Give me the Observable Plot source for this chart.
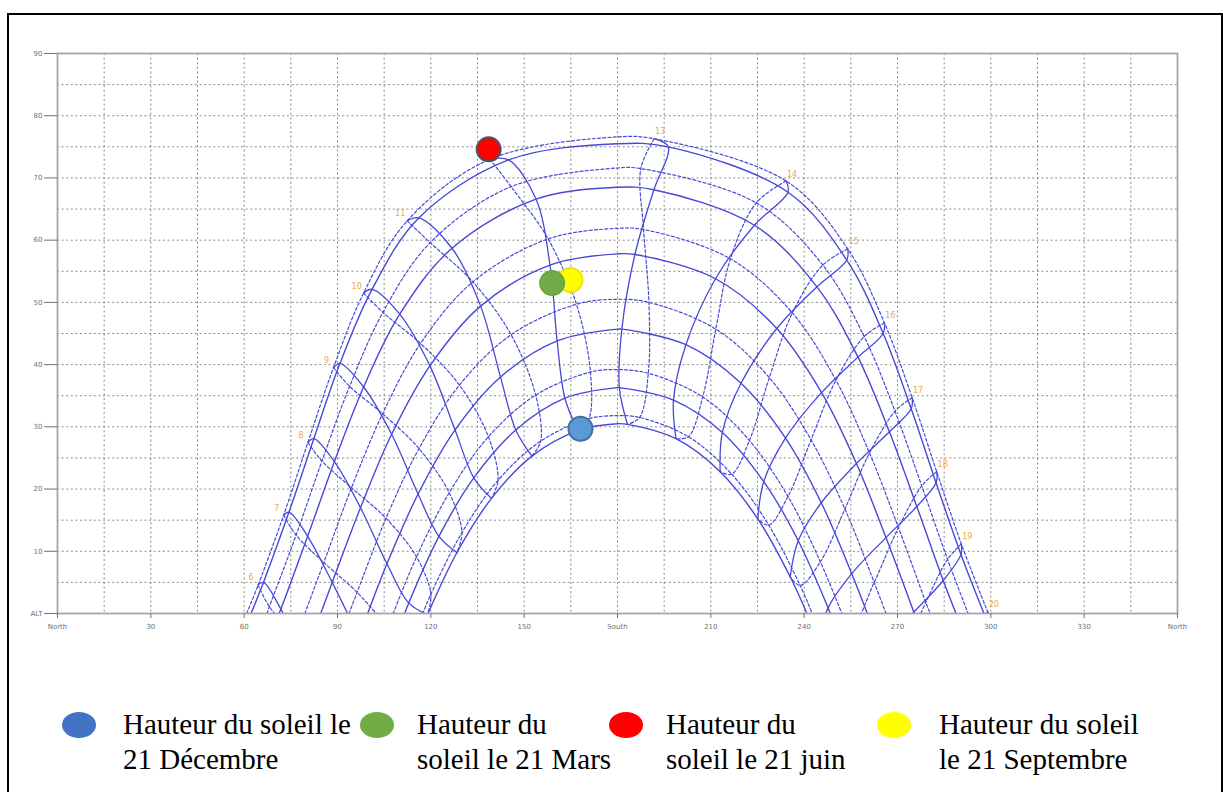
<!DOCTYPE html>
<html><head><meta charset="utf-8">
<script src="https://cdn.jsdelivr.net/npm/d3@7"></script>
<script src="https://cdn.jsdelivr.net/npm/@observablehq/plot@0.6"></script>
<style>
html,body{margin:0;padding:0;background:#fff;overflow:hidden;}
#wrap{position:relative;width:1223px;height:792px;overflow:hidden;}
#chart{position:absolute;left:0;top:0;}
#border{position:absolute;left:7px;top:13px;width:1212px;height:820px;border:2px solid #000;}
.leg{position:absolute;font-family:"Liberation Serif","Times New Roman",serif;font-size:29px;line-height:35px;color:#000;white-space:nowrap;}
.ell{position:absolute;width:34px;height:26px;border-radius:50%;}
</style></head><body>
<div id="wrap"><div id="chart"></div><div id="legend"></div><div id="border"></div></div>
<script>
// ---- axis ticks ----
const xTicks = [0,30,60,90,120,150,180,210,240,270,300,330,360];
const xTickLabels = ["North","30","60","90","120","150","South","210","240","270","300","330","North"];
const yTicks = [0,10,20,30,40,50,60,70,80,90];
const yTickLabels = ["ALT","10","20","30","40","50","60","70","80","90"];
const gridXTicks = [15,30,45,60,75,90,105,120,135,150,165,180,195,210,225,240,255,270,285,300,315,330,345];
const gridYTicks = [5,10,15,20,25,30,35,40,45,50,55,60,65,70,75,80,85];

// ---- sun path data (azimuth °, altitude °) ----
const hours = [6,7,8,9,10,11,12,13,14,15,16,17,18,19,20];
const monthNames = ["Jan","Feb","Mar","Apr","May","Jun","Jul","Aug","Sep","Oct","Nov","Dec"];
const sunriseAz = [119.1,111.6,99.7,84.6,71.2,62.2,60.8,67.3,79.5,93.7,107.9,117.4];
const sunsetAz  = [240.9,248.4,260.3,275.4,288.8,297.8,299.2,292.7,280.5,266.3,252.1,242.6];
const noonAlt   = [30.5,36.3,45.7,57.8,68.5,75.5,76.6,71.6,61.9,50.5,39.2,31.8];

// sun position at each clock hour (6h .. 20h), null = sun far below horizon
const jan = [null,null,[118.9,-0.2],[128.4,9.8],[139.5,18.5],[152.5,25.3],[167.3,29.4],[183.2,30.4],[198.8,28.1],[213.0,22.8],[225.1,15.2],[235.5,5.9],[244.6,-4.5],null,null];
const feb = [null,null,[112.9,1.7],[122.6,12.4],[133.8,21.8],[147.3,29.5],[163.1,34.6],[180.6,36.3],[198.0,34.3],[213.7,29.1],[227.0,21.2],[238.1,11.7],[247.7,0.9],null,null];
const mar = [null,[96.9,-3.8],[105.9,8.0],[115.9,19.2],[127.8,29.5],[142.4,38.0],[160.6,43.8],[181.4,45.7],[202.0,43.2],[219.7,37.0],[234.0,28.2],[245.5,17.8],[255.3,6.4],[264.3,-5.4],null];
const apr = [[79.3,-7.0],[88.3,5.0],[97.4,17.0],[107.4,28.8],[119.7,39.8],[136.0,49.4],[158.3,56.0],[185.6,57.7],[211.5,53.8],[231.2,45.8],[245.6,35.5],[256.8,24.1],[266.3,12.2],[275.2,0.2],null];
const may = [[71.8,0.7],[80.4,12.4],[89.0,24.4],[98.4,36.4],[110.0,48.1],[126.8,58.7],[153.8,66.6],[191.7,68.1],[224.0,62.4],[244.1,52.5],[257.3,41.2],[267.4,29.2],[276.2,17.2],[284.7,5.3],[293.7,-6.0]];
const jun = [[66.2,5.0],[74.4,16.3],[82.4,28.1],[90.8,40.2],[101.1,52.1],[116.2,63.6],[145.0,72.9],[196.3,75.0],[234.8,67.7],[253.7,56.8],[265.4,45.0],[274.4,32.9],[282.4,21.0],[290.4,9.5],[299.0,-1.5]];
const jul = [[64.5,4.6],[72.7,15.8],[80.5,27.5],[88.7,39.5],[98.4,51.5],[112.4,63.1],[139.0,73.0],[191.8,76.3],[234.2,69.5],[254.0,58.6],[265.8,46.7],[274.7,34.7],[282.6,22.8],[290.5,11.2],[299.0,0.3]];
const aug = [[68.1,1.1],[76.7,12.6],[85.0,24.5],[93.9,36.5],[104.6,48.4],[119.8,59.6],[145.8,68.6],[187.5,71.5],[224.6,66.0],[246.0,56.0],[259.3,44.5],[269.2,32.5],[277.8,20.5],[286.1,8.7],[294.8,-2.6]];
const sep = [[76.7,-3.7],[85.6,8.2],[94.5,20.2],[104.5,32.1],[116.7,43.4],[133.5,53.3],[157.7,60.2],[188.4,61.7],[216.3,57.0],[236.2,48.3],[250.2,37.5],[261.0,25.8],[270.3,13.8],[279.1,1.8],null];
const oct = [null,[96.3,3.4],[105.6,15.3],[116.2,26.5],[129.2,36.7],[145.8,44.8],[166.8,49.7],[190.1,50.0],[211.6,45.7],[228.8,37.9],[242.2,27.9],[253.1,16.8],[262.5,5.0],[271.5,-7.0],null];
const nov = [null,[106.2,-2.2],[115.4,9.1],[125.9,19.4],[138.5,28.4],[153.7,35.1],[171.3,38.8],[189.9,38.6],[207.4,34.8],[222.4,27.8],[234.8,18.8],[245.2,8.3],[254.4,-3.0],null,null];
const dec = [null,null,[120.0,3.1],[130.0,13.0],[141.6,21.4],[155.3,27.7],[170.8,31.3],[187.1,31.5],[202.8,28.4],[216.7,22.4],[228.6,14.2],[238.7,4.5],null,null,null];

// ---- highlighted sun positions ----
const dotNames = ["21 Décembre","21 Septembre","21 Mars","21 juin"];
const dotAz    = [168.1,164.9,159.0,138.6];
const dotAlt   = [29.7,53.6,53.1,74.6];
const dotFill  = ["#5b9bd5","#ffff00","#70ad47","#ff0000"];
const dotStroke= ["#41719c","#f2e400","#6aa544","#3f5a66"];

// ---- legend ----
const legendLine1 = ["Hauteur du soleil le","Hauteur du","Hauteur du","Hauteur du soleil"];
const legendLine2 = ["21 Décembre","soleil le 21 Mars","soleil le 21 juin","le 21 Septembre"];
const legendColors = ["#4472c4","#70ad47","#ff0000","#ffff00"];

// ---- build tables ----
const monthPts = [jan,feb,mar,apr,may,jun,jul,aug,sep,oct,nov,dec];
const dayRows = [];
monthPts.forEach((pts, m) => {
  const arr = [[sunriseAz[m], 0], [180, noonAlt[m]], [sunsetAz[m], 0]];
  pts.forEach(p => { if (p && p[1] >= 0.5) arr.push(p); });
  arr.sort((a, b) => a[0] - b[0]);
  arr.forEach(p => dayRows.push({month: monthNames[m], solid: m < 6, az: p[0], alt: p[1]}));
});
const hourSolid = [], hourDashed = [];
hours.forEach((h, k) => {
  [0,1,2,3,4,5,6].forEach(m => { const p = monthPts[m][k]; if (p) hourSolid.push({hour: h, az: p[0], alt: p[1]}); });
  [6,7,8,9,10,11,0].forEach(m => { const p = monthPts[m][k]; if (p) hourDashed.push({hour: h, az: p[0], alt: p[1]}); });
});
const hourLabels = hours.map((h, k) => ({hour: h, az: jul[k][0], alt: jul[k][1]}));
const dots = dotNames.map((n, i) => ({name: n, az: dotAz[i], alt: dotAlt[i], fill: dotFill[i], stroke: dotStroke[i]}));
const xLab = new Map(xTicks.map((v, i) => [v, xTickLabels[i]]));
const yLab = new Map(yTicks.map((v, i) => [v, yTickLabels[i]]));

const LINE = "#4848d8";
const chart = Plot.plot({
  width: 1223, height: 650,
  marginLeft: 57, marginRight: 46, marginTop: 53, marginBottom: 37,
  style: {background: "transparent", fontFamily: "'DejaVu Sans', sans-serif"},
  x: {domain: [0, 360]},
  y: {domain: [0, 90]},
  marks: [
    Plot.gridX({ticks: gridXTicks, stroke: "#777", strokeOpacity: 0.85, strokeDasharray: "2,2.6", strokeWidth: 1}),
    Plot.gridY({ticks: gridYTicks, stroke: "#777", strokeOpacity: 0.85, strokeDasharray: "2,2.6", strokeWidth: 1}),
    Plot.line(dayRows.filter(d => d.solid), {x: "az", y: "alt", z: "month", curve: "catmull-rom", stroke: LINE, strokeWidth: 1.4, clip: true}),
    Plot.line(dayRows.filter(d => !d.solid), {x: "az", y: "alt", z: "month", curve: "catmull-rom", stroke: LINE, strokeWidth: 1.2, strokeDasharray: "3,2.2", clip: true}),
    Plot.line(hourSolid, {x: "az", y: "alt", z: "hour", curve: "catmull-rom", stroke: LINE, strokeWidth: 1.3, clip: true}),
    Plot.line(hourDashed, {x: "az", y: "alt", z: "hour", curve: "catmull-rom", stroke: LINE, strokeWidth: 1.2, strokeDasharray: "3,2.2", clip: true}),
    Plot.frame({stroke: "#a6a6a6", strokeWidth: 1.8}),
    Plot.text(hourLabels.filter(d => d.hour <= 12), {x: "az", y: "alt", text: d => String(d.hour), dx: -7, dy: -7, fill: "#eaa948", fontSize: 8}),
    Plot.text(hourLabels.filter(d => d.hour > 12), {x: "az", y: "alt", text: d => String(d.hour), dx: 6, dy: -7, fill: "#eaa948", fontSize: 8}),
    Plot.dot(dots, {x: "az", y: "alt", r: 12, fill: "fill", stroke: "stroke", strokeWidth: 2}),
    Plot.axisX({ticks: xTicks, tickFormat: d => xLab.get(d), tickSize: 5, tickPadding: 6, fontSize: 7, color: "#707070", label: null}),
    Plot.axisY({ticks: yTicks, tickFormat: d => yLab.get(d), tickSize: 13, tickPadding: 2, fontSize: 7, color: "#707070", label: null})
  ]
});
document.getElementById("chart").appendChild(chart);

// legend (HTML below the plot)
const legend = document.getElementById("legend");
const ellX = [62, 360, 609, 877];
const textX = [123, 417, 666, 939];
legendColors.forEach((c, i) => {
  const e = document.createElement("div");
  e.className = "ell";
  e.style.left = ellX[i] + "px";
  e.style.top = "712px";
  e.style.background = c;
  legend.appendChild(e);
  const t = document.createElement("div");
  t.className = "leg";
  t.style.left = textX[i] + "px";
  t.style.top = "707px";
  t.innerHTML = legendLine1[i] + "<br>" + legendLine2[i];
  legend.appendChild(t);
});
</script></body></html>
